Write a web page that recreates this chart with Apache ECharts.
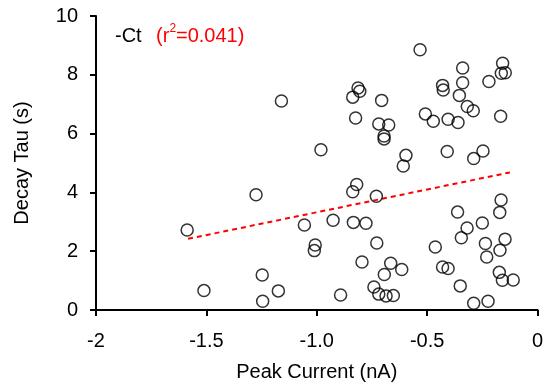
<!DOCTYPE html>
<html><head><meta charset="utf-8">
<script src="https://cdn.jsdelivr.net/npm/echarts@6/dist/echarts.min.js"></script>
<style>html,body{margin:0;padding:0;background:#fff}#c{width:543px;height:383px}</style>
</head><body><div id="c"></div>
<script>
const peakCurrent = [
 -1.587,-1.511,-1.275,-1.247,-1.245,-1.174,-1.160,-1.056,-1.007,-1.011,-0.981,
 -0.813,-0.805,-0.837,-0.706,-0.824,-0.719,-0.674,-0.695,-0.695,-0.532,-0.596,-0.608,
 -0.339,-0.339,-0.430,-0.427,-0.354,-0.220,-0.158,-0.164,-0.146,-0.318,-0.291,-0.167,
 -0.508,-0.472,-0.405,-0.360,-0.409,-0.247,-0.289,
 -0.819,-0.837,-0.730,-0.926,-0.834,-0.777,-0.728,-0.795,-0.665,-0.615,-0.694,-0.892,
 -0.741,-0.719,-0.686,-0.653,-0.362,-0.319,-0.345,-0.463,-0.430,-0.405,-0.350,-0.289,
 -0.224,-0.165,-0.171,-0.250,-0.236,-0.230,-0.147,-0.170,-0.173,-0.159,-0.110
];
const decayTau = [
 2.72,0.66,3.92,1.19,0.30,0.65,7.11,2.89,2.21,2.02,5.45,
 7.55,7.44,7.24,7.13,6.53,6.33,6.29,5.92,5.82,8.85,5.26,4.90,
 8.23,7.73,7.64,7.48,7.30,7.77,8.39,8.05,8.07,6.92,6.78,6.59,
 6.67,6.42,6.49,6.38,5.39,5.41,5.15,
 4.27,4.02,3.87,3.05,2.98,2.95,2.28,1.63,1.59,1.38,1.21,0.51,
 0.78,0.54,0.48,0.49,3.33,2.79,2.46,2.14,1.46,1.41,0.82,0.23,
 0.30,3.74,3.32,2.96,2.26,1.80,2.41,2.03,1.28,1.01,1.02
];
const fitX = [-1.583, -0.125];
const fitY = [2.42, 4.68];
const xTickLabels = {"-2":"-2","-1.5":"-1.5","-1":"-1.0","-0.5":"-0.5","0":"0"};

const pts = peakCurrent.map((x,i)=>[x,decayTau[i]]);
const fit = fitX.map((x,i)=>[x,fitY[i]]);
const F = 'Liberation Sans, Arial, sans-serif';
const chart = echarts.init(document.getElementById('c'));
chart.setOption({
  animation:false,
  grid:{left:96,right:5.5,top:16,bottom:73,containLabel:false,outerBoundsMode:'none'},
  xAxis:{type:'value',min:-2,max:0,interval:0.5,
    name:'Peak Current (nA)',nameLocation:'middle',nameGap:52,
    nameTextStyle:{fontFamily:F,fontSize:20,color:'#000'},
    axisLine:{show:true,onZero:false,lineStyle:{color:'#000',width:2}},
    axisTick:{show:true,inside:false,length:6,lineStyle:{color:'#000',width:2}},
    axisLabel:{fontFamily:F,fontSize:20,color:'#000',margin:21,
      formatter:v=>xTickLabels[String(v)] ?? String(v)},
    splitLine:{show:false}},
  yAxis:{type:'value',min:0,max:10,interval:2,
    name:'Decay Tau (s)',nameLocation:'middle',nameGap:64,
    nameTextStyle:{fontFamily:F,fontSize:20,color:'#000'},
    axisLine:{show:true,onZero:false,lineStyle:{color:'#000',width:2}},
    axisTick:{show:true,inside:false,length:6,lineStyle:{color:'#000',width:2}},
    axisLabel:{fontFamily:F,fontSize:20,color:'#000',margin:18},
    splitLine:{show:false}},
  graphic:[
    {type:'text',left:115,top:26,style:{text:'-Ct',fontFamily:F,fontSize:20,fill:'#000'}},
    {type:'text',left:156,top:26,style:{text:'(r',fontFamily:F,fontSize:20,fill:'#ff0000'}},
    {type:'text',left:169.5,top:23,style:{text:'2',fontFamily:F,fontSize:12,fill:'#ff0000'}},
    {type:'text',left:176,top:26,style:{text:'=0.041)',fontFamily:F,fontSize:20,fill:'#ff0000'}}
  ],
  series:[
    {type:'line',data:fit,symbol:'none',z:1,
     lineStyle:{color:'#ff0000',width:2,type:[5,4]}},
    {type:'scatter',data:pts,symbol:'circle',symbolSize:12,z:2,
     itemStyle:{color:'transparent',borderColor:'#000',borderWidth:1.5}}
  ]
});
</script></body></html>
